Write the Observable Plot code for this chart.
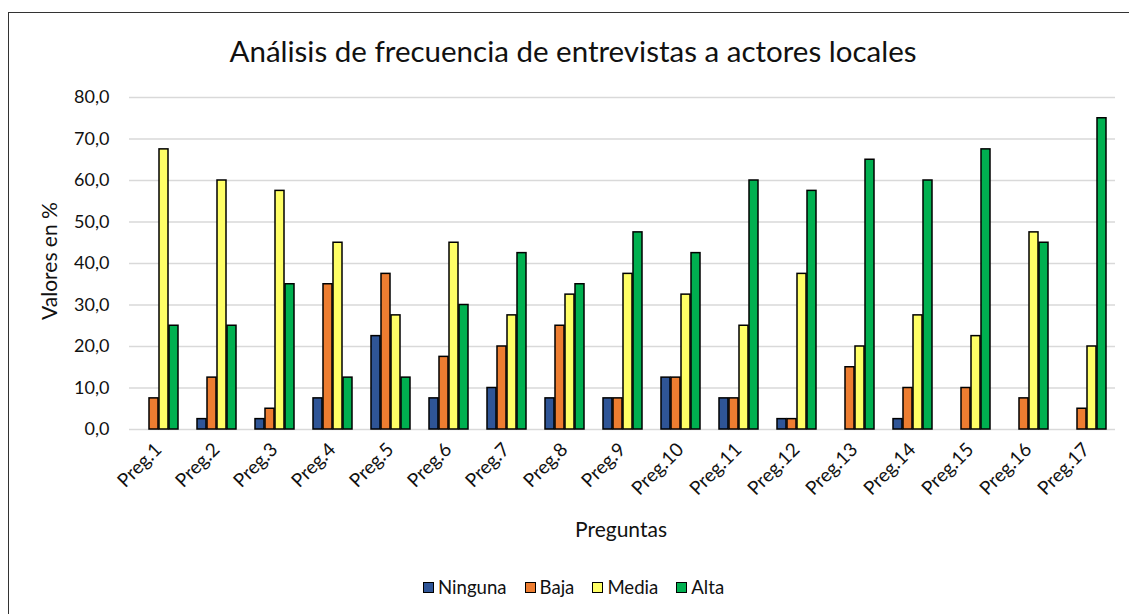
<!DOCTYPE html>
<html>
<head>
<meta charset="utf-8">
<script src="https://cdn.jsdelivr.net/npm/d3@7"></script>
<script src="https://cdn.jsdelivr.net/npm/@observablehq/plot@0.6"></script>
<style>
  html, body { margin: 0; padding: 0; background: #fff; }
  #wrap { position: relative; width: 1129px; height: 614px; overflow: hidden; font-family: Lato, "Open Sans", sans-serif; color: #111; }
  #border { position: absolute; left: 8px; top: 12px; width: 1300px; height: 800px; border-left: 1.5px solid #333; border-top: 1.5px solid #333; }
  #chart { position: absolute; left: 0; top: 0; }
  .abs { position: absolute; white-space: nowrap; }
  #title { top: 50px; left: 573px; transform: translate(-50%, -50%); font-size: 29.5px; }
  #ylab { left: 48px; top: 261px; transform: translate(-50%, -50%) rotate(-90deg); font-size: 21px; }
  #xlab { left: 621px; top: 528px; transform: translate(-50%, -50%); font-size: 21px; }
  #legend { left: 423px; top: 587px; transform: translateY(-50%); display: flex; align-items: center; font-size: 18.6px; }
  .item { display: flex; align-items: center; margin-right: 18px; }
  .sw { width: 9px; height: 9px; border: 1.5px solid #000; margin-right: 4px; }
</style>
</head>
<body>
<div id="wrap">
  <div id="border"></div>
  <div id="chart"></div>
  <div id="title" class="abs">Análisis de frecuencia de entrevistas a actores locales</div>
  <div id="ylab" class="abs">Valores en %</div>
  <div id="xlab" class="abs">Preguntas</div>
  <div id="legend" class="abs"></div>
</div>
<script>
const preguntas = ["Preg.1","Preg.2","Preg.3","Preg.4","Preg.5","Preg.6","Preg.7","Preg.8","Preg.9","Preg.10","Preg.11","Preg.12","Preg.13","Preg.14","Preg.15","Preg.16","Preg.17"];
const series = ["Ninguna","Baja","Media","Alta"];
const colors = ["#2F5597","#ED7D31","#FFFF66","#00B050"];
const ninguna = [0,2.5,2.5,7.5,22.5,7.5,10,7.5,7.5,12.5,7.5,2.5,0,2.5,0,0,0];
const baja    = [7.5,12.5,5,35,37.5,17.5,20,25,7.5,12.5,7.5,2.5,15,10,10,7.5,5];
const media   = [67.5,60,57.5,45,27.5,45,27.5,32.5,37.5,32.5,25,37.5,20,27.5,22.5,47.5,20];
const alta    = [25,25,35,12.5,12.5,30,42.5,35,47.5,42.5,60,57.5,65,60,67.5,45,75];
const yTicks = [0,10,20,30,40,50,60,70,80];

const valuesBySeries = [ninguna, baja, media, alta];
const rows = [];
preguntas.forEach((q, i) => {
  series.forEach((s, j) => rows.push({q, s, v: valuesBySeries[j][i]}));
});
const fmt = d => d.toFixed(1).replace(".", ",");

const chart = Plot.plot({
  width: 1129,
  height: 614,
  marginLeft: 127,
  marginRight: 13,
  marginTop: 97,
  marginBottom: 185,
  style: {fontFamily: "Lato, 'Open Sans', sans-serif", fontSize: "18px", color: "#111", background: "transparent"},
  fx: {domain: preguntas, padding: 0, label: null},
  x: {domain: series, paddingInner: 0.12, paddingOuter: 0.8, axis: null},
  y: {domain: [0, 80]},
  color: {domain: series, range: colors},
  marks: [
    Plot.ruleY(yTicks, {stroke: "#d9d9d9", strokeWidth: 1.5}),
    Plot.axisY(yTicks, {tickSize: 0, tickPadding: 20, tickFormat: fmt, label: null, fontSize: 18}),
    Plot.axisFx({anchor: "bottom", tickRotate: -45, tickSize: 0, tickPadding: 17, label: null, fontSize: 19}),
    Plot.barY(rows, {fx: "q", x: "s", y: "v", fill: "s", stroke: "#000", strokeWidth: 1.5, filter: d => d.v > 0})
  ]
});
document.getElementById("chart").appendChild(chart);

const legend = document.getElementById("legend");
series.forEach((s, j) => {
  const it = document.createElement("div");
  it.className = "item";
  const sw = document.createElement("span");
  sw.className = "sw";
  sw.style.background = colors[j];
  const tx = document.createElement("span");
  tx.textContent = s;
  it.appendChild(sw); it.appendChild(tx);
  legend.appendChild(it);
});
</script>
</body>
</html>
